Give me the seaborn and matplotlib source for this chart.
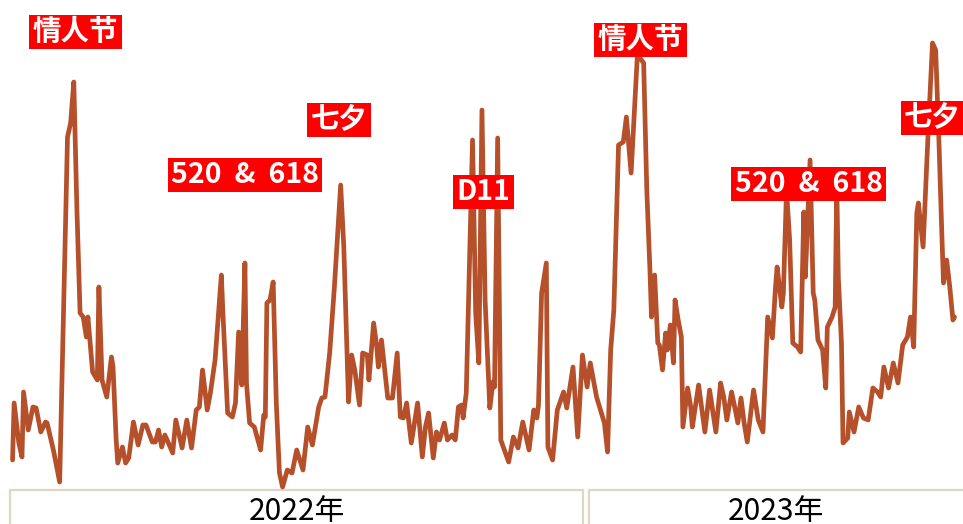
import matplotlib
matplotlib.use("Agg")
import matplotlib.pyplot as plt
import matplotlib.patches as patches
import matplotlib.dates as mdates
import matplotlib.transforms as mtransforms
import seaborn as sns
import pandas as pd

# days since 2022-01-01 and the (unitless) search index
day_offsets = [
    0, 1, 4, 6, 7, 10, 13, 15, 18, 21, 22, 26, 30, 35, 37, 39, 41, 43, 45, 47,
    48, 51, 54, 55, 57, 60, 63, 64, 66, 67, 70, 72, 74, 77, 80, 83, 85, 89, 91, 93,
    95, 97, 99, 102, 104, 108, 111, 114, 117, 119, 121, 124, 126, 129, 133, 134, 137, 140, 142, 144,
    146, 148, 149, 151, 154, 158, 160, 161, 162, 164, 166, 168, 170, 172, 175, 178, 181, 183, 185, 188,
    191, 195, 197, 199, 202, 205, 209, 211, 214, 216, 218, 221, 223, 226, 227, 230, 232, 233, 235, 239,
    242, 245, 247, 249, 251, 254, 258, 261, 263, 265, 268, 270, 272, 275, 277, 280, 282, 284, 286, 287,
    289, 293, 295, 297, 299, 301, 304, 306, 307, 309, 311, 316, 319, 322, 325, 329, 332, 334, 335, 337,
    340, 341, 344, 347, 351, 353, 357, 360, 363, 366, 368, 372, 377, 379, 381, 383, 386, 389, 391, 394,
    398, 402, 404, 406, 407, 409, 411, 412, 414, 416, 417, 419, 421, 422, 424, 426, 427, 430, 432, 433,
    437, 441, 444, 448, 451, 453, 455, 458, 460, 462, 464, 466, 468, 472, 475, 478, 481, 484, 486, 487,
    490, 491, 493, 495, 497, 500, 502, 504, 505, 508, 510, 511, 513, 516, 518, 519, 522, 524, 525, 526,
    528, 529, 532, 533, 536, 539, 542, 545, 548, 551, 553, 555, 558, 561, 564, 567, 570, 572, 574, 576,
    577, 580, 583, 586, 588, 590, 592, 593, 595, 597, 599, 600,
]
index_values = [
    40, 97, 57, 43, 108, 70, 93, 92, 68, 78, 77, 50, 18, 363, 377, 418, 290, 187, 183, 163,
    183, 128, 120, 213, 120, 103, 143, 133, 60, 37, 53, 37, 42, 78, 55, 75, 75, 58, 58, 70,
    53, 65, 58, 47, 80, 52, 80, 52, 90, 93, 130, 90, 107, 140, 225, 187, 87, 83, 97, 168,
    115, 237, 117, 77, 73, 50, 85, 83, 197, 200, 218, 97, 27, 13, 30, 27, 50, 40, 30, 73,
    55, 93, 102, 103, 147, 213, 315, 253, 98, 145, 130, 95, 147, 145, 120, 177, 153, 133, 160, 102,
    102, 147, 83, 82, 97, 57, 97, 43, 73, 87, 42, 68, 60, 77, 60, 65, 60, 93, 95, 82,
    107, 360, 187, 137, 390, 200, 92, 118, 113, 362, 60, 38, 63, 52, 78, 50, 90, 82, 95, 207,
    237, 53, 40, 90, 108, 92, 133, 63, 145, 113, 137, 103, 77, 48, 150, 190, 355, 358, 383, 327,
    445, 437, 310, 230, 183, 225, 157, 155, 130, 167, 150, 175, 137, 200, 180, 163, 73, 112, 93, 73,
    115, 68, 110, 68, 117, 103, 80, 108, 93, 77, 102, 77, 58, 110, 80, 68, 183, 162, 213, 233,
    193, 207, 310, 260, 157, 153, 148, 288, 223, 340, 207, 200, 160, 150, 112, 173, 183, 193, 315, 223,
    157, 57, 62, 88, 68, 93, 82, 80, 112, 108, 103, 133, 112, 137, 117, 155, 163, 183, 153, 287,
    297, 253, 360, 457, 450, 363, 263, 217, 240, 213, 180, 183,
]

event_labels = ["情人节", "520  &  618", "七夕", "D11", "情人节", "520  &  618", "七夕"]
event_dates = ["2022-02-10", "2022-05-29", "2022-07-28", "2022-10-28",
               "2023-02-05", "2023-05-23", "2023-08-10"]
event_levels = [468, 325, 380, 308, 460, 316, 382]

year_labels = ["2022年", "2023年"]
year_spans = [("2021-12-30 10:00", "2022-12-30 10:00"), ("2023-01-03 05:00", "2023-12-31")]

df = pd.DataFrame({
    "date": pd.Timestamp("2022-01-01") + pd.to_timedelta(day_offsets, unit="D"),
    "value": index_values,
})

sns.set_theme(style="white")
plt.rcParams["font.family"] = ["Noto Sans CJK SC", "DejaVu Sans"]

fig = plt.figure(figsize=(9.63, 5.24), dpi=100)
ax = fig.add_axes([0, 0, 1, 1])
sns.lineplot(data=df, x="date", y="value", ax=ax, color="#b5502a",
             linewidth=3.4, estimator=None, solid_joinstyle="round")

x_left = pd.Timestamp("2021-12-24")
x_right = pd.Timestamp("2023-08-29 10:00")
ax.set_xlim(x_left, x_right)
ax.set_ylim(-24, 500)
ax.axis("off")

for label, d, lvl in zip(event_labels, event_dates, event_levels):
    ax.text(pd.Timestamp(d), lvl, label, ha="center", va="center",
            fontsize=20.5, fontweight="bold", color="white", zorder=5,
            bbox=dict(boxstyle="square,pad=0.12", fc="#ff0000", ec="none"))

# year brackets along the bottom
trans = mtransforms.blended_transform_factory(ax.transData, ax.transAxes)
for label, (start, end) in zip(year_labels, year_spans):
    x0 = mdates.date2num(pd.Timestamp(start))
    x1 = mdates.date2num(pd.Timestamp(end))
    rect = patches.Rectangle((x0, -0.1), x1 - x0, 0.165, transform=trans,
                             fill=False, edgecolor="#dcd8c4", linewidth=1.6,
                             clip_on=False)
    ax.add_patch(rect)
    xc = (x0 + min(x1, mdates.date2num(x_right))) / 2
    ax.text(xc, 0.024, label, transform=trans, ha="center", va="center",
            fontsize=21.5, color="black")

fig.savefig("out.png", dpi=100)
